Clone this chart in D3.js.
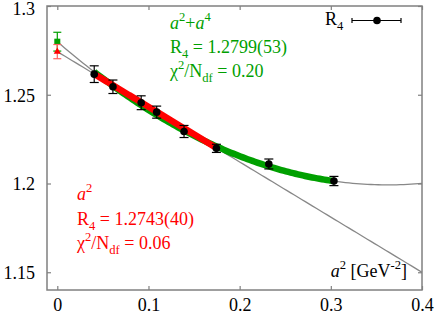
<!DOCTYPE html>
<html>
<head>
<meta charset="utf-8">
<script src="https://cdn.jsdelivr.net/npm/d3@7"></script>
<style>
body { margin: 0; background: #fff; }
text { font-family: "Liberation Serif", "Times New Roman", serif; white-space: pre; }
</style>
</head>
<body>
<svg id="chart" width="436" height="315"></svg>
<script>
// lattice data: R4 vs a^2
var a2 = [0.0405, 0.061, 0.092, 0.109, 0.139, 0.1745, 0.232, 0.3034]
var r4 = [1.2616, 1.2545, 1.2455, 1.2402, 1.2293, 1.2198, 1.2110, 1.2014]
var r4err = [0.0047, 0.0038, 0.0039, 0.0034, 0.0034, 0.0023, 0.0028, 0.0026]

// fit coefficients (c0 + c1 a^2 + c2 a^4)
var linFit = [1.2743, -0.3108]
var quadFit = [1.2799, -0.4455, 0.615]
var linRange = [0.0405, 0.1745]
var quadRange = [0.0405, 0.3034]
// continuum values [a2, R4, err]
var contLin = [0, 1.2743, 0.0040]
var contQuad = [0, 1.2799, 0.0053]

var xTicks = [0, 0.1, 0.2, 0.3, 0.4]
var yTicks = [1.15, 1.2, 1.25, 1.3]

var svg = d3.select('#chart')
var x = d3.scaleLinear().domain([-0.0113, 0.4]).range([47, 422])
var y = d3.scaleLinear().domain([1.14, 1.3]).range([290, 6])

var green = "#00a000", red = "#ff0000", grey = "#888888"

function poly(c, t) { return c.reduce(function(s, v, i) { return s + v * Math.pow(t, i) }, 0) }
function curve(c, lo, hi) {
    return d3.range(0, 101).map(function(i) { var t = lo + (hi - lo) * i / 100; return [t, poly(c, t)] })
}
var line = d3.line().x(function(d) { return x(d[0]) }).y(function(d) { return y(d[1]) })

// thin grey fit curves over the full range
svg.append("path").attr("d", line(curve(linFit, 0, 0.4))).attr("fill", "none").attr("stroke", grey).attr("stroke-width", 1.3)
svg.append("path").attr("d", line(curve(quadFit, 0, 0.4))).attr("fill", "none").attr("stroke", grey).attr("stroke-width", 1.3)

// thick fit bands over the fitted range
svg.append("path").attr("d", line(curve(quadFit, quadRange[0], quadRange[1]))).attr("fill", "none").attr("stroke", green).attr("stroke-width", 6.5)
svg.append("path").attr("d", line(curve(linFit, linRange[0], linRange[1]))).attr("fill", "none").attr("stroke", red).attr("stroke-width", 6.5)

// frame
svg.append("rect").attr("x", 47).attr("y", 6).attr("width", 375).attr("height", 284).attr("fill", "none").attr("stroke", "#808080").attr("stroke-width", 1.5)

// axes
var xb = svg.append("g").attr("transform", "translate(0,290)").call(d3.axisBottom(x).tickValues(xTicks).tickSize(-4).tickFormat(d3.format("")))
var xt = svg.append("g").attr("transform", "translate(0,6)").call(d3.axisTop(x).tickValues(xTicks).tickSize(-4).tickFormat(""))
var yl = svg.append("g").attr("transform", "translate(47,0)").call(d3.axisLeft(y).tickValues(yTicks).tickSize(-4).tickFormat(d3.format("")))
var yr = svg.append("g").attr("transform", "translate(422,0)").call(d3.axisRight(y).tickValues(yTicks).tickSize(-4).tickFormat(""))
;[xb, xt, yl, yr].forEach(function(g) {
    g.attr("font-family", null)
    g.select(".domain").remove()
    g.selectAll(".tick line").attr("stroke", "#808080").attr("stroke-width", 1.2)
    g.selectAll("text").attr("fill", "#000").style("font-size", "18px")
})
xb.selectAll("text").attr("y", 8).attr("dy", "0.71em")
yl.selectAll("text").attr("x", -12).attr("dy", "0.35em")
yl.selectAll(".tick").filter(function(d) { return d === 1.3 }).select("text").attr("dy", "0.45em")

// rich text helper: parts {t, it, sup, sub}
function rich(px, py, parts, color, size, anchor) {
    var t = svg.append("text").attr("x", px).attr("y", py).attr("fill", color)
        .style("font-size", size + "px").attr("text-anchor", anchor || "start")
    var shift = 0
    parts.forEach(function(p) {
        var target = p.sup ? -size * 0.42 : p.sub ? size * 0.3 : 0
        t.append("tspan").attr("dy", target - shift)
            .style("font-size", (p.sup || p.sub) ? (size * 0.7) + "px" : null)
            .style("font-style", p.it ? "italic" : null)
            .text(p.t)
        shift = target
    })
    return t
}

// fit annotations
rich(170, 29, [{t: "a", it: 1}, {t: "2", sup: 1}, {t: "+"}, {t: "a", it: 1}, {t: "4", sup: 1}], green, 18)
rich(170, 53, [{t: "R"}, {t: "4", sub: 1}, {t: " = 1.2799(53)"}], green, 18)
rich(170, 77, [{t: "χ"}, {t: "2", sup: 1}, {t: "/N"}, {t: "df", sub: 1}, {t: " = 0.20"}], green, 18)

rich(77, 200, [{t: "a", it: 1}, {t: "2", sup: 1}], red, 18)
rich(77, 225, [{t: "R"}, {t: "4", sub: 1}, {t: " = 1.2743(40)"}], red, 18)
rich(77, 249, [{t: "χ"}, {t: "2", sup: 1}, {t: "/N"}, {t: "df", sub: 1}, {t: " = 0.06"}], red, 18)

// axis title
rich(407, 277, [{t: "a", it: 1}, {t: "2", sup: 1}, {t: " [GeV"}, {t: "-2", sup: 1}, {t: "]"}], "#000", 18, "end")

// continuum extrapolations
function contPoint(c, col, barCol) {
    svg.append("line").attr("x1", x(c[0])).attr("x2", x(c[0]))
        .attr("y1", y(c[1] - c[2])).attr("y2", y(c[1] + c[2])).attr("stroke", barCol).attr("stroke-width", 1.2)
    ;[-1, 1].forEach(function(s) {
        svg.append("line").attr("x1", x(c[0]) - 4).attr("x2", x(c[0]) + 4)
            .attr("y1", y(c[1] + s * c[2])).attr("y2", y(c[1] + s * c[2])).attr("stroke", barCol).attr("stroke-width", 1.2)
    })
}
contPoint(contQuad, green, green)
svg.append("rect").attr("x", x(contQuad[0]) - 3).attr("y", y(contQuad[1]) - 3).attr("width", 6).attr("height", 6).attr("fill", green)
contPoint(contLin, red, "#ff6060")
svg.append("path").attr("d", d3.symbol(d3.symbolTriangle, 22)()).attr("transform", "translate(" + x(contLin[0]) + "," + y(contLin[1]) + ")").attr("fill", red)

// data points with error bars
var pts = a2.map(function(v, i) { return {a: v, r: r4[i], e: r4err[i]} })
var g = svg.append("g")
g.selectAll(".eb").data(pts).enter().append("line")
    .attr("x1", function(d) { return x(d.a) }).attr("x2", function(d) { return x(d.a) })
    .attr("y1", function(d) { return y(d.r - d.e) }).attr("y2", function(d) { return y(d.r + d.e) })
    .attr("stroke", "#000").attr("stroke-width", 1.2)
;[-1, 1].forEach(function(s) {
    g.selectAll(".cap" + s).data(pts).enter().append("line")
        .attr("x1", function(d) { return x(d.a) - 4.5 }).attr("x2", function(d) { return x(d.a) + 4.5 })
        .attr("y1", function(d) { return y(d.r + s * d.e) }).attr("y2", function(d) { return y(d.r + s * d.e) })
        .attr("stroke", "#000").attr("stroke-width", 1.2)
})
g.selectAll("circle").data(pts).enter().append("circle")
    .attr("cx", function(d) { return x(d.a) }).attr("cy", function(d) { return y(d.r) }).attr("r", 3.8).attr("fill", "#000")

// legend
rich(325, 25, [{t: "R"}, {t: "4", sub: 1}], "#000", 18)
svg.append("line").attr("x1", 352).attr("x2", 401).attr("y1", 20.5).attr("y2", 20.5).attr("stroke", "#000").attr("stroke-width", 1.2)
svg.append("line").attr("x1", 352).attr("x2", 352).attr("y1", 18).attr("y2", 23).attr("stroke", "#000").attr("stroke-width", 1.2)
svg.append("line").attr("x1", 401).attr("x2", 401).attr("y1", 18).attr("y2", 23).attr("stroke", "#000").attr("stroke-width", 1.2)
svg.append("circle").attr("cx", 377).attr("cy", 20.5).attr("r", 3.8).attr("fill", "#000")
</script>
</body>
</html>
